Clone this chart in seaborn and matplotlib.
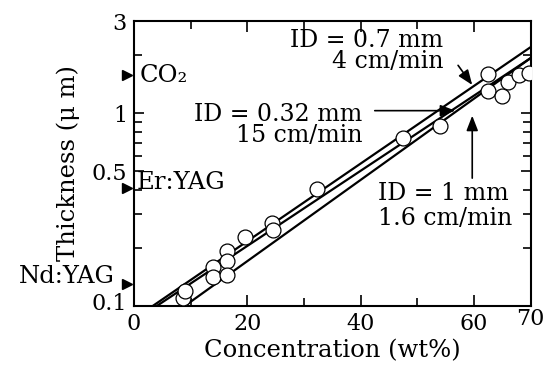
import numpy as np
import pandas as pd
import matplotlib
matplotlib.use('Agg')
import matplotlib.pyplot as plt
import matplotlib.transforms as mtransforms
import seaborn as sns

# measured points (open circles)
conc = [8.7, 9.0, 13.9, 13.9, 16.4, 16.4, 16.4, 19.6, 24.4, 24.5,
        32.3, 47.5, 54.0, 62.5, 62.5, 65.0, 66.0, 68.0, 69.7]
thick = [0.110, 0.120, 0.159, 0.141, 0.193, 0.171, 0.145, 0.228, 0.269, 0.248,
         0.404, 0.742, 0.857, 1.59, 1.30, 1.22, 1.45, 1.57, 1.61]

# fitted lines (end points)
fit_names = ['ID = 0.7 mm', 'ID = 0.32 mm', 'ID = 1 mm']
fit_x = [[3.35, 70], [4.06, 70], [9.0, 70]]
fit_y = [[0.1, 2.20], [0.1, 1.93], [0.1, 1.93]]

# laser penetration marks on the left axis
laser_names = ['CO\u2082', 'Er:YAG', 'Nd:YAG']
laser_y = [1.57, 0.41, 0.13]

x_ticks = [0, 20, 40, 60, 70]
y_ticks = [0.1, 0.5, 1, 3]
y_ticklabels = ['0.1', '0.5', '1', '3']

sns.set_style('ticks')
plt.rcParams['font.family'] = ['DejaVu Serif']
plt.rcParams['mathtext.fontset'] = 'dejavuserif'
for k in ['text.color', 'axes.labelcolor', 'xtick.color', 'ytick.color',
          'axes.edgecolor']:
    plt.rcParams[k] = 'black'

fig = plt.figure(figsize=(5.51, 3.65), dpi=100)
ax = fig.add_axes([0.243, 0.162, 0.72, 0.780])

for fx, fy in zip(fit_x, fit_y):
    d = pd.DataFrame({'x': fx, 'y': fy})
    sns.lineplot(data=d, x='x', y='y', ax=ax, color='black', lw=1.6,
                 estimator=None, sort=False)

pts = pd.DataFrame({'c': conc, 't': thick})
sns.scatterplot(data=pts, x='c', y='t', ax=ax, s=115, facecolor='white',
                edgecolor='black', linewidth=0.9, zorder=3)

ax.set_yscale('log')
ax.set_xlim(0, 70)
ax.set_ylim(0.1, 3)

ax.set_xticks(x_ticks)
ax.set_xticks([10, 30, 50], minor=True)
ax.set_yticks(y_ticks)
ax.set_yticklabels(y_ticklabels)
ax.set_yticks([0.2, 0.3, 0.4, 0.6, 0.7, 0.8, 0.9, 2], minor=True)
ax.yaxis.set_minor_formatter(matplotlib.ticker.NullFormatter())
ax.tick_params(which='both', direction='in', top=True, right=True, width=1.2,
               labelsize=16)
ax.tick_params(which='major', length=8)
ax.tick_params(which='minor', length=6)
ax.tick_params(axis='x', pad=5)
ax.tick_params(axis='y', which='major', length=7, pad=5)
for sp in ax.spines.values():
    sp.set_linewidth(1.5)

# the reference nudges two tick labels off the corners
for lab in ax.get_yticklabels():
    if lab.get_text() == '0.1':
        lab.set_va('baseline')
        lab.set_transform(lab.get_transform() + mtransforms.ScaledTranslation(
            0, -4 / 100, fig.dpi_scale_trans))
for lab in ax.get_xticklabels():
    if lab.get_text() == '70':
        lab.set_transform(lab.get_transform() + mtransforms.ScaledTranslation(
            0, 5 / 100, fig.dpi_scale_trans))

ax.set_xlabel('Concentration (wt%)', fontsize=17.5, labelpad=3)
ax.set_ylabel('Thickness (\u03bc m)', fontsize=17.5, labelpad=8)

# laser marks
trans = mtransforms.blended_transform_factory(ax.transAxes, ax.transData)
ax.plot([-0.017] * len(laser_y), laser_y, ls='none', marker='>', ms=7,
        color='black', transform=trans, clip_on=False)
ax.text(0.014, laser_y[0], laser_names[0], transform=trans, fontsize=17.5,
        va='center', ha='left')
ax.text(0.008, laser_y[1] * 1.06, laser_names[1], transform=trans, fontsize=17.5,
        va='center', ha='left')
ax.text(-0.048, laser_y[2] * 1.09, laser_names[2], transform=trans, fontsize=17.5,
        va='center', ha='right')

# line annotations
arrow = dict(arrowstyle='-|>,head_length=0.9,head_width=0.35', color='black',
             lw=1.2, shrinkA=0, shrinkB=0)
ax.text(54.6, 2.10, 'ID = 0.7 mm\n4 cm/min', fontsize=17, ha='right',
        va='center', linespacing=0.9)
ax.annotate('', xy=(59.7, 1.40), xytext=(57.2, 1.77), arrowprops=arrow)
ax.text(40.3, 0.867, 'ID = 0.32 mm\n15 cm/min', fontsize=17, ha='right',
        va='center', linespacing=0.9)
ax.annotate('', xy=(56.7, 1.03), xytext=(42.5, 1.03), arrowprops=arrow)
ax.text(43.1, 0.33, 'ID = 1 mm\n1.6 cm/min', fontsize=17, ha='left',
        va='center', linespacing=1.1)
ax.annotate('', xy=(59.7, 0.97), xytext=(59.7, 0.46), arrowprops=arrow)

fig.savefig('out.png', dpi=100)
